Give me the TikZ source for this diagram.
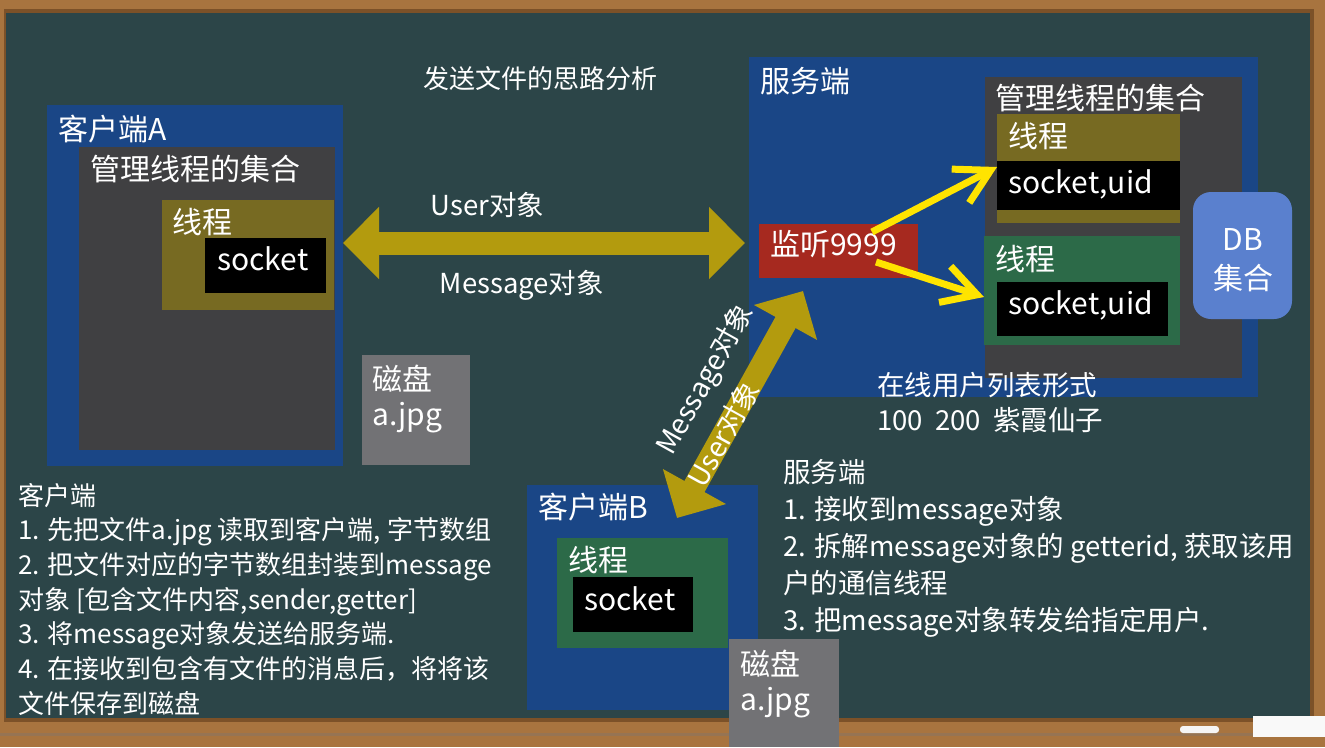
\documentclass[tikz,border=0pt]{standalone}
\usepackage{fontspec}
\setmainfont{Noto Sans CJK SC}
\usetikzlibrary{arrows.meta,positioning}
\definecolor{wood}{HTML}{A8743F}
\definecolor{woodd}{HTML}{7C5128}
\definecolor{board}{HTML}{2C4548}
\definecolor{blueb}{HTML}{1A4686}
\definecolor{grayb}{HTML}{404042}
\definecolor{oliveb}{HTML}{776A22}
\definecolor{greenb}{HTML}{2C6A48}
\definecolor{diskb}{HTML}{727275}
\definecolor{gold}{HTML}{B39B0E}
\definecolor{yel}{HTML}{FFE400}
\definecolor{redb}{HTML}{A6291F}
\definecolor{dbb}{HTML}{5A80CE}
\tikzset{>=stealth,
  box/.style={anchor=north west, inner sep=0pt, outer sep=0pt},
  lbl/.style={anchor=base west, inner sep=0pt, text=white, font=\fontsize{30}{32}\selectfont},
  txt/.style={anchor=base west, inner sep=0pt, text=white, font=\fontsize{26}{30}\selectfont},
  fat/.style={line width=23pt, draw=gold, {Triangle[length=36pt,width=70pt]}-{Triangle[length=36pt,width=70pt]}},
  pick/.style={line width=7pt, draw=yel, -{Straight Barb[length=34pt,width=38pt]}}
}
\begin{document}
\begin{tikzpicture}[x=1pt,y=-1pt]
\useasboundingbox (0,0) rectangle (1325,747);
% board and frame
\fill[wood] (0,0) rectangle (1325,747);
\fill[woodd] (4,9) rectangle (1314,722);
\fill[board] (6,13) rectangle (1310,718);
\fill[woodd!80] (0,733) rectangle (1325,736);
\fill[white!92!gray, rounded corners=3pt] (1180,726) rectangle (1219,733);
\fill[white!95!gray] (1253,716) rectangle (1325,737);

\node at (540,88) [txt, anchor=base] {发送文件的思路分析};

% client A
\node[box, fill=blueb, minimum width=296pt, minimum height=361pt] (cA) at (47,105) {};
\node[box, fill=grayb, minimum width=256pt, minimum height=303pt] (cAset) at (79,147) {};
\node[box, fill=oliveb, minimum width=172pt, minimum height=110pt] (cAth) at (162,200) {};
\node[box, fill=black, minimum width=121pt, minimum height=55pt] (cAsk) at (205,238) {};
\node[box, fill=diskb, minimum width=108pt, minimum height=110pt] (cAdisk) at (362,355) {};
\node at (58,140) [lbl] {客户端A};
\node at (90,180) [lbl] {管理线程的集合};
\node at (172,233) [lbl] {线程};
\node at (217,270) [lbl] {socket};
\node at (372,390) [lbl] {磁盘};
\node at (372,425) [lbl] {a.jpg};

% server
\node[box, fill=blueb, minimum width=509pt, minimum height=340pt] (srv) at (749,57) {};
\node[box, fill=grayb, minimum width=257pt, minimum height=301pt] (sset) at (985,77) {};
\node[box, fill=oliveb, minimum width=183pt, minimum height=109pt] (sth1) at (997,114) {};
\node[box, fill=black, minimum width=183pt, minimum height=49pt] (ssk1) at (997,161) {};
\node[box, fill=greenb, minimum width=196pt, minimum height=109pt] (sth2) at (984,236) {};
\node[box, fill=black, minimum width=171pt, minimum height=54pt] (ssk2) at (997,282) {};
\node[box, fill=redb, minimum width=159pt, minimum height=54pt] (listen) at (759,224) {};
\node[box, fill=dbb, rounded corners=18pt, minimum width=99pt, minimum height=127pt] (db) at (1193,192) {};
\node at (760,92) [lbl] {服务端};
\node at (995,109) [lbl] {管理线程的集合};
\node at (1008,147) [lbl] {线程};
\node at (1008,193) [lbl] {socket,uid};
\node at (995,270) [lbl] {线程};
\node at (1008,314) [lbl] {socket,uid};
\node at (770,255) [lbl] {监听9999};
\node at (1243,250) [lbl, anchor=base] {DB};
\node at (1243,289) [lbl, anchor=base] {集合};
\node at (877,395) [txt, font=\fontsize{27.5}{30}\selectfont] {在线用户列表形式};
\node at (877,430) [txt, font=\fontsize{27.5}{30}\selectfont] {100\ \ 200\ \ 紫霞仙子};

% client B
\node[box, fill=blueb, minimum width=231pt, minimum height=225pt] (cB) at (527,485) {};
\node[box, fill=greenb, minimum width=171pt, minimum height=110pt] (cBth) at (557,538) {};
\node[box, fill=black, minimum width=120pt, minimum height=55pt] (cBsk) at (573,577) {};
\node[box, fill=diskb, minimum width=110pt, minimum height=108pt] (cBdisk) at (729,639) {};
\node at (538,518) [lbl] {客户端B};
\node at (568,571) [lbl] {线程};
\node at (584,610) [lbl] {socket};
\node at (740,675) [lbl] {磁盘};
\node at (740,710) [lbl] {a.jpg};

% arrows
\coordinate (a1) at (343,243);
\coordinate (a2) at (745,243);
\draw[fat] (a1) -- (a2);
\path (a1) -- (a2) node[txt, font=\fontsize{27.5}{30}\selectfont, anchor=base, pos=0.36, yshift=28pt] {User对象}
  node[txt, font=\fontsize{27.5}{30}\selectfont, anchor=base, pos=0.445, yshift=-50pt] {Message对象};
\coordinate (b1) at (677,518);
\coordinate (b2) at (803,291);
\draw[fat] (b1) -- (b2);
\path (b1) -- (b2) node[pos=0.52, sloped, above=26pt, text=white, inner sep=0pt, font=\fontsize{28}{30}\selectfont] {Message对象}
  node[pos=0.37, sloped, text=white, inner sep=0pt, font=\fontsize{28}{30}\selectfont] {User对象};
\coordinate (l1) at (872,232);
\coordinate (l2) at (876,262);
\draw[pick] (l1) -- (sth1.west |- 0,167);
\draw[pick] (l2) -- (sth2.west |- 0,297);

% notes
\foreach \t [count=\i] in {{客户端},{1. 先把文件a.jpg 读取到客户端, 字节数组},{2. 把文件对应的字节数组封装到message},{对象 [包含文件内容,sender,getter]},{3. 将message对象发送给服务端.},{4. 在接收到包含有文件的消息后，将将该},{文件保存到磁盘}}
\node at (18,{505+34.7*(\i-1)}) [txt] (cn\i) {\t};
\foreach \t [count=\i] in {{服务端},{1. 接收到message对象},{2. 拆解message对象的 getterid, 获取该用},{户的通信线程},{3. 把message对象转发给指定用户.}}
\node at (783,{482+37*(\i-1)}) [txt, font=\fontsize{27.5}{30}\selectfont] (sn\i) {\t};
\end{tikzpicture}
\end{document}
